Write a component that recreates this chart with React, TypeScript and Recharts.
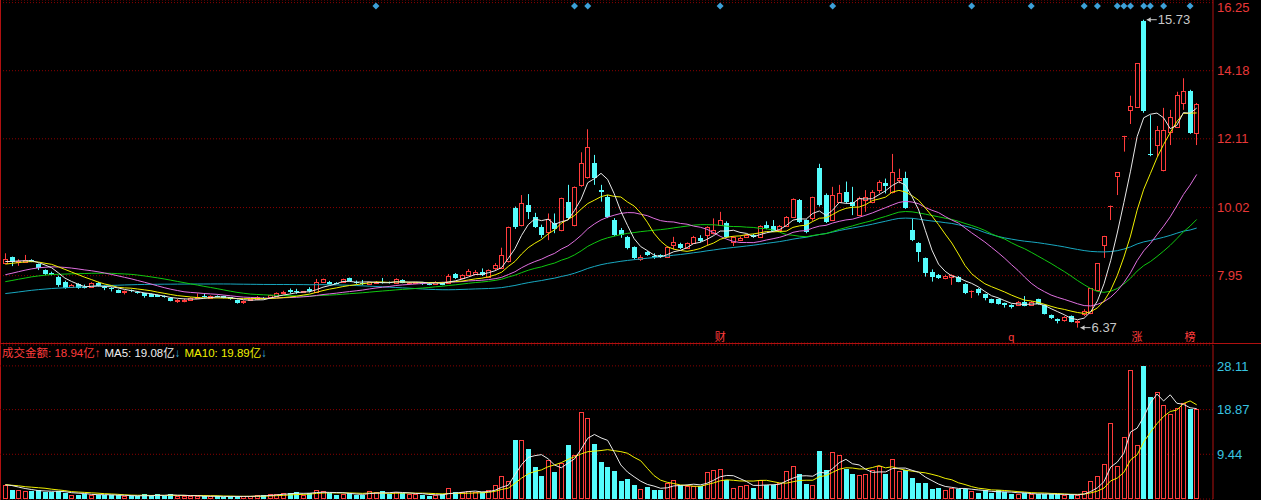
import React from 'react';
import {
  ComposedChart,
  Bar,
  Line,
  XAxis,
  YAxis,
  CartesianGrid,
  ReferenceDot,
} from 'recharts';

// daily candles (price in yuan), oldest first
const openP = [
  8.34, 8.51, 8.36, 8.36, 8.43, 8.3, 8.12, 8.02, 7.92, 7.75,
  7.62, 7.7, 7.62, 7.62, 7.74, 7.61, 7.58, 7.51, 7.46, 7.51,
  7.46, 7.41, 7.38, 7.36, 7.33, 7.28, 7.18, 7.18, 7.21, 7.26,
  7.34, 7.28, 7.33, 7.32, 7.29, 7.21, 7.14, 7.21, 7.24, 7.28,
  7.29, 7.34, 7.42, 7.5, 7.48, 7.45, 7.53, 7.45, 7.76, 7.75,
  7.73, 7.75, 7.87, 7.77, 7.74, 7.71, 7.72, 7.77, 7.75, 7.72,
  7.82, 7.72, 7.73, 7.74, 7.71, 7.71, 7.74, 7.72, 8.0, 7.87,
  7.97, 8.0, 8.07, 7.9, 8.18, 8.18, 8.4, 10.02, 9.49, 10.1,
  9.74, 9.44, 9.29, 9.54, 9.34, 10.2, 9.49, 10.71, 10.94, 11.36,
  10.56, 10.33, 9.64, 9.34, 9.13, 8.81, 8.45, 8.68, 8.56, 8.58,
  8.53, 8.88, 8.91, 8.78, 8.95, 9.1, 9.19, 9.24, 9.49, 9.54,
  8.98, 9.02, 9.13, 9.19, 9.12, 9.49, 9.46, 9.34, 9.46, 9.74,
  10.25, 9.64, 9.69, 11.21, 10.4, 9.64, 10.2, 10.5, 10.2, 9.79,
  10.25, 10.2, 10.55, 10.76, 10.5, 10.86, 10.91, 9.34, 8.95, 8.48,
  8.07, 7.97, 7.88, 7.92, 7.92, 7.7, 7.47, 7.54, 7.39, 7.23,
  7.23, 7.11, 7.06, 7.06, 7.16, 7.06, 7.23, 7.06, 6.75, 6.62,
  6.6, 6.72, 6.55, 6.79, 6.81, 7.52, 8.88, 10.08, 10.98, 12.2,
  13.0, 13.09, 15.7, 11.66, 11.92, 11.16, 12.33, 12.48, 13.21, 13.57, 12.28,
];
const highP = [
  8.63, 8.53, 8.45, 8.58, 8.45, 8.32, 8.14, 8.07, 7.95, 7.8,
  7.7, 7.72, 7.68, 7.75, 7.76, 7.66, 7.6, 7.53, 7.5, 7.53,
  7.48, 7.43, 7.4, 7.38, 7.35, 7.3, 7.24, 7.25, 7.29, 7.41,
  7.41, 7.35, 7.35, 7.34, 7.3, 7.22, 7.2, 7.25, 7.33, 7.3,
  7.37, 7.44, 7.49, 7.56, 7.55, 7.48, 7.6, 7.85, 7.86, 7.79,
  7.75, 7.86, 7.89, 7.8, 7.82, 7.76, 7.78, 7.88, 7.77, 7.87,
  7.84, 7.76, 7.76, 7.76, 7.73, 7.78, 7.76, 8.0, 8.03, 7.99,
  8.15, 8.12, 8.17, 8.14, 8.33, 8.8, 9.44, 10.05, 10.4, 10.43,
  9.86, 9.5, 9.84, 9.84, 10.32, 10.71, 10.66, 11.7, 12.4, 11.62,
  10.71, 10.4, 9.7, 9.4, 9.16, 8.84, 8.58, 8.7, 8.63, 8.6,
  8.84, 9.13, 8.95, 8.96, 9.16, 9.18, 9.45, 9.69, 9.89, 9.6,
  9.15, 9.14, 9.22, 9.22, 9.48, 9.6, 9.64, 9.49, 9.76, 10.3,
  10.28, 9.66, 10.35, 11.35, 10.45, 10.65, 10.71, 10.81, 10.65, 10.35,
  10.55, 10.55, 10.85, 10.9, 11.65, 11.2, 11.11, 9.69, 8.97, 8.5,
  8.14, 8.0, 7.98, 7.99, 7.94, 7.72, 7.5, 7.57, 7.4, 7.25,
  7.25, 7.13, 7.08, 7.18, 7.33, 7.18, 7.25, 7.08, 6.77, 6.65,
  6.72, 6.74, 6.6, 6.93, 7.57, 8.33, 9.16, 10.08, 11.09, 12.2,
  13.42, 14.41, 15.73, 12.83, 12.5, 13.05, 12.99, 13.54, 13.95, 13.6, 13.2,
];
const lowP = [
  8.33, 8.24, 8.25, 8.34, 8.36, 8.12, 7.97, 7.96, 7.61, 7.55,
  7.58, 7.55, 7.56, 7.6, 7.62, 7.51, 7.47, 7.42, 7.38, 7.45,
  7.4, 7.28, 7.3, 7.3, 7.28, 7.17, 7.12, 7.14, 7.2, 7.25,
  7.28, 7.27, 7.29, 7.26, 7.22, 7.1, 7.09, 7.19, 7.22, 7.23,
  7.27, 7.33, 7.38, 7.41, 7.4, 7.43, 7.44, 7.43, 7.74, 7.68,
  7.7, 7.74, 7.77, 7.7, 7.66, 7.7, 7.7, 7.71, 7.71, 7.71,
  7.72, 7.68, 7.69, 7.67, 7.66, 7.69, 7.66, 7.7, 7.85, 7.85,
  7.95, 7.97, 7.94, 7.88, 8.12, 8.15, 8.35, 9.37, 9.45, 9.67,
  9.4, 9.1, 9.03, 9.24, 9.3, 9.65, 9.45, 10.65, 10.9, 10.71,
  10.2, 9.7, 9.15, 9.1, 8.75, 8.45, 8.4, 8.55, 8.46, 8.49,
  8.5, 8.75, 8.76, 8.76, 8.93, 8.96, 8.88, 9.2, 9.47, 9.1,
  8.85, 9.0, 9.1, 9.1, 9.1, 9.36, 9.3, 9.32, 9.44, 9.72,
  9.55, 9.24, 9.62, 10.05, 9.55, 9.62, 10.18, 10.15, 9.79, 9.76,
  9.89, 10.15, 10.45, 10.45, 10.45, 10.76, 9.98, 9.0, 8.37, 7.92,
  7.77, 7.85, 7.84, 7.67, 7.75, 7.39, 7.27, 7.35, 7.2, 7.11,
  7.07, 6.98, 6.95, 7.04, 7.02, 7.04, 7.07, 6.77, 6.63, 6.5,
  6.55, 6.53, 6.37, 6.72, 6.78, 7.5, 8.49, 9.64, 10.4, 11.72,
  12.56, 13.05, 12.9, 11.58, 11.56, 11.12, 11.92, 12.45, 12.99, 12.26, 11.92,
];
const closeP = [
  8.45, 8.36, 8.4, 8.43, 8.38, 8.17, 7.99, 7.98, 7.67, 7.57,
  7.66, 7.58, 7.59, 7.73, 7.64, 7.56, 7.54, 7.43, 7.49, 7.47,
  7.41, 7.33, 7.31, 7.31, 7.29, 7.19, 7.21, 7.22, 7.28, 7.3,
  7.29, 7.33, 7.31, 7.27, 7.23, 7.11, 7.17, 7.24, 7.31, 7.25,
  7.36, 7.43, 7.46, 7.46, 7.45, 7.47, 7.47, 7.77, 7.84, 7.7,
  7.72, 7.84, 7.78, 7.72, 7.72, 7.75, 7.76, 7.73, 7.72, 7.85,
  7.73, 7.74, 7.75, 7.69, 7.7, 7.76, 7.68, 7.94, 7.88, 7.97,
  8.09, 8.05, 7.97, 8.12, 8.27, 8.58, 9.44, 9.44, 10.15, 9.89,
  9.44, 9.19, 9.66, 9.36, 10.3, 9.69, 10.66, 11.38, 11.85, 10.91,
  10.5, 9.74, 9.19, 9.19, 8.78, 8.48, 8.53, 8.58, 8.51, 8.51,
  8.81, 8.98, 8.78, 8.93, 9.13, 9.0, 9.42, 9.34, 9.64, 9.13,
  9.12, 9.1, 9.18, 9.12, 9.46, 9.4, 9.32, 9.46, 9.74, 10.27,
  9.59, 9.29, 10.33, 10.1, 9.59, 10.4, 10.45, 10.2, 10.08, 10.32,
  10.35, 10.5, 10.81, 10.68, 11.11, 10.91, 10.0, 9.03, 8.68, 8.02,
  7.9, 7.87, 7.94, 7.97, 7.77, 7.41, 7.49, 7.41, 7.26, 7.13,
  7.09, 7.06, 7.01, 7.16, 7.04, 7.16, 7.09, 6.79, 6.65, 6.58,
  6.7, 6.55, 6.58, 6.88, 7.57, 8.33, 9.16, 10.08, 11.09, 12.2,
  13.1, 14.41, 12.95, 11.62, 12.38, 12.38, 12.76, 13.44, 13.57, 12.28, 13.17,
];
// 成交金额, 亿
const amount = [
  3.0, 1.8, 1.8, 1.67, 1.67, 1.96, 1.39, 1.46, 1.67, 1.25,
  0.9, 0.9, 1.1, 0.76, 0.9, 0.9, 0.76, 0.76, 0.6, 0.6,
  0.6, 0.97, 0.6, 1.1, 0.6, 1.1, 0.6, 0.6, 0.6, 0.6,
  0.55, 0.55, 0.55, 0.48, 0.55, 0.6, 0.55, 0.6, 0.76, 0.76,
  1.1, 1.1, 1.25, 1.25, 1.46, 0.9, 1.25, 1.96, 1.6, 1.25,
  0.76, 1.1, 1.25, 0.9, 0.9, 1.6, 1.46, 1.6, 1.1, 1.46,
  1.25, 1.1, 0.97, 0.9, 0.6, 0.9, 0.97, 2.3, 1.46, 1.46,
  1.67, 1.46, 1.46, 1.8, 2.87, 4.77, 3.7, 12.5, 12.4, 10.5,
  6.67, 4.77, 8.15, 5.7, 7.66, 11.5, 9.35, 18.4, 17.2, 11.7,
  7.9, 6.7, 5.9, 3.7, 4.3, 2.87, 2.03, 2.5, 1.96, 1.96,
  3.36, 4.07, 2.87, 2.66, 2.66, 2.66, 5.7, 6.04, 6.4, 4.07,
  2.39, 2.66, 2.87, 2.39, 4.07, 2.87, 2.87, 3.36, 5.9, 7.0,
  5.2, 3.08, 2.87, 10.05, 6.19, 9.9, 9.35, 6.4, 5.34, 4.98,
  5.34, 6.04, 6.88, 5.34, 8.5, 5.9, 6.04, 4.5, 3.36, 3.36,
  2.17, 2.39, 2.0, 2.39, 2.17, 2.17, 1.6, 1.25, 1.8, 1.25,
  1.8, 1.46, 0.97, 1.1, 1.2, 0.97, 1.1, 0.97, 0.97, 0.97,
  0.9, 0.9, 0.76, 1.67, 3.72, 4.77, 7.46, 16.1, 6.88, 13.1,
  27.2, 11.5, 28.11, 21.5, 22.5, 19.9, 18.0, 19.2, 20.36, 18.9, 18.94,
];
// sessions before the visible window, only used to seed the moving averages
const histClose = [
  6.92, 6.97, 6.88, 6.84, 6.9, 6.99, 6.94, 7.01, 6.95, 6.91,
  6.98, 7.04, 6.99, 6.93, 7.0, 7.06, 7.01, 7.08, 7.02, 7.1,
  7.05, 7.14, 7.09, 7.16, 7.1, 7.19, 7.13, 7.2, 7.17, 7.23,
  7.25, 7.3, 7.26, 7.33, 7.28, 7.36, 7.31, 7.38, 7.43, 7.4,
  7.41, 7.47, 7.43, 7.52, 7.58, 7.55, 7.66, 7.7, 7.78, 7.82,
  8.06, 8.11, 8.19, 8.21, 8.29, 8.3, 8.36, 8.31, 8.41, 8.37,
];
const histAmount = [2.4, 3.3, 2.9, 3.6, 2.7, 3.1, 2.5, 3.4, 3.2, 2.8];

const priceTicks = [7.95, 10.02, 12.11, 14.18, 16.25];
const volTicks = [9.44, 18.87, 28.11];
const flagIdx = [56, 86, 88, 108, 125, 146, 155, 163, 165, 168, 169, 170, 172, 173, 175, 179];
const tagIdx = [108, 152, 171, 179];
const tagText = ['财', 'q', '涨', '榜'];

const RED = '#ff3c3c';
const CYAN = '#54fcfc';
const AXIS_RED = '#b01010';
const GRID_RED = '#8a0000';
const FONT = "'Liberation Sans', Arial, 'Noto Sans CJK SC', sans-serif";

const allClose = [...histClose, ...closeP];
const allAmount = [...histAmount, ...amount];
const avg = (src: number[], pre: number, n: number, i: number) => {
  let s = 0;
  for (let k = 0; k < n; k++) s += src[pre + i - k];
  return s / n;
};

const rows = closeP.map((c, i) => {
  const prev = i > 0 ? closeP[i - 1] : histClose[histClose.length - 1];
  return {
    i,
    open: openP[i],
    high: highP[i],
    low: lowP[i],
    close: c,
    up: c > openP[i] || (c === openP[i] && c >= prev),
    vol: amount[i],
    ma5: avg(allClose, 60, 5, i),
    ma10: avg(allClose, 60, 10, i),
    ma20: avg(allClose, 60, 20, i),
    ma30: avg(allClose, 60, 30, i),
    ma60: avg(allClose, 60, 60, i),
    vma5: avg(allAmount, 10, 5, i),
    vma10: avg(allAmount, 10, 10, i),
  };
});

const CandleShape = (props: any) => {
  const { x, y, width, height, payload } = props;
  if (x == null || !payload) return null;
  const { open, close, high, low, up } = payload;
  const top = Math.min(y, y + height);
  const h = Math.abs(height);
  const k = high > low ? h / (high - low) : 0;
  const py = (p: number) => top + (high - p) * k;
  const c = Math.floor(x + width / 2);
  const bTop = Math.round(py(Math.max(open, close)));
  const bBot = Math.round(py(Math.min(open, close)));
  const yh = py(high);
  const yl = py(low);
  const color = up ? RED : CYAN;
  if (bBot - bTop < 1) {
    return (
      <g>
        <line x1={c + 0.5} x2={c + 0.5} y1={yh} y2={yl} stroke={color} />
        <line x1={c - 2} x2={c + 3} y1={bTop + 0.5} y2={bTop + 0.5} stroke={color} />
      </g>
    );
  }
  if (up) {
    return (
      <g>
        <line x1={c + 0.5} x2={c + 0.5} y1={yh} y2={bTop} stroke={color} />
        <line x1={c + 0.5} x2={c + 0.5} y1={bBot} y2={yl} stroke={color} />
        <rect x={c - 1.5} y={bTop + 0.5} width={4} height={bBot - bTop} fill="#000" stroke={color} />
      </g>
    );
  }
  return (
    <g>
      <line x1={c + 0.5} x2={c + 0.5} y1={yh} y2={yl} stroke={color} />
      <rect x={c - 2} y={bTop} width={5} height={bBot - bTop} fill={color} />
    </g>
  );
};

const VolShape = (props: any) => {
  const { x, y, width, height, payload } = props;
  if (x == null || !payload) return null;
  const c = Math.floor(x + width / 2);
  const t = Math.round(y);
  const b = Math.round(y + height);
  if (payload.up) {
    return <rect x={c - 1.5} y={t + 0.5} width={4} height={Math.max(0, b - t - 1)} fill="#000" stroke={RED} />;
  }
  return <rect x={c - 2} y={t} width={5} height={Math.max(1, b - t)} fill={CYAN} />;
};

const PriceTick = (p: any) => (
  <text x={p.x} y={Math.max(p.y, 7)} dy="0.36em" fill="#e83838" fontSize={13} fontFamily={FONT}>
    {Number(p.payload.value).toFixed(2)}
  </text>
);
const VolTick = (p: any) => (
  <text x={p.x} y={p.y} dy="0.36em" fill="#38c4e0" fontSize={13} fontFamily={FONT}>
    {Number(p.payload.value).toFixed(2)}
  </text>
);

const Diamond = (p: any) => (
  <path
    d={`M${p.cx},${p.cy - 3.5} L${p.cx + 3.5},${p.cy} L${p.cx},${p.cy + 3.5} L${p.cx - 3.5},${p.cy} Z`}
    fill="#3ca0d8"
  />
);

const extremeLabel = (text: string) => (p: any) => (
  <g>
    <line x1={p.cx + 3} x2={p.cx + 13} y1={p.cy} y2={p.cy} stroke="#c8c8c8" />
    <path d={`M${p.cx + 3},${p.cy} l4,-2.5 l0,5 Z`} fill="#c8c8c8" />
    <text x={p.cx + 14} y={p.cy} dy="0.36em" fill="#c8c8c8" fontSize={13} fontFamily={FONT}>
      {text}
    </text>
  </g>
);

const tagShape = (text: string) => (p: any) => (
  <text x={p.cx} y={p.cy} dy="0.36em" textAnchor="middle" fill={RED} fontSize={11} fontFamily={FONT}>
    {text}
  </text>
);

const maxIdx = highP.indexOf(Math.max(...highP));
const minIdx = lowP.indexOf(Math.min(...lowP));
const last = rows[rows.length - 1];
const prevRow = rows[rows.length - 2];
const arrow = (a: number, b: number) => (a >= b ? '↑' : '↓');

const xPadding = { left: 2, right: 13 };

export default function App() {
  return (
    <div
      style={{
        position: 'fixed',
        left: 0,
        top: 0,
        width: 1261,
        height: 500,
        background: '#000',
        overflow: 'hidden',
        fontFamily: FONT,
      }}
    >
      <div style={{ position: 'absolute', left: 0, top: 0 }}>
        <ComposedChart width={1261} height={344} data={rows} margin={{ top: 0, right: 0, bottom: 1, left: 0 }}>
          <CartesianGrid vertical={false} stroke={GRID_RED} strokeDasharray="1 2" />
          <XAxis dataKey="i" type="category" hide padding={xPadding} />
          <YAxis
            orientation="right"
            width={48}
            domain={[5.903, 16.329]}
            allowDataOverflow
            ticks={priceTicks}
            interval={0}
            tickSize={0}
            tickMargin={4}
            tickLine={false}
            axisLine={{ stroke: AXIS_RED }}
            tick={<PriceTick />}
          />
          <Bar
            dataKey={(d: any) => [d.low, d.high]}
            barSize={5}
            isAnimationActive={false}
            shape={(p: any) => <CandleShape {...p} />}
          />
          <Line dataKey="ma60" stroke="#18a8c0" dot={false} strokeWidth={1} isAnimationActive={false} />
          <Line dataKey="ma30" stroke="#10c810" dot={false} strokeWidth={1} isAnimationActive={false} />
          <Line dataKey="ma20" stroke="#e070e0" dot={false} strokeWidth={1} isAnimationActive={false} />
          <Line dataKey="ma10" stroke="#f0f000" dot={false} strokeWidth={1} isAnimationActive={false} />
          <Line dataKey="ma5" stroke="#e8e8e8" dot={false} strokeWidth={1} isAnimationActive={false} />
          {flagIdx.map((f) => (
            <ReferenceDot key={`f${f}`} x={f} y={16.146} r={3} ifOverflow="visible" shape={Diamond} />
          ))}
          {tagIdx.map((t, k) => (
            <ReferenceDot key={`t${t}`} x={t} y={6.07} r={3} ifOverflow="visible" shape={tagShape(tagText[k])} />
          ))}
          <ReferenceDot x={maxIdx} y={highP[maxIdx]} r={3} ifOverflow="visible" shape={extremeLabel(highP[maxIdx].toFixed(2))} />
          <ReferenceDot x={minIdx} y={lowP[minIdx]} r={3} ifOverflow="visible" shape={extremeLabel(lowP[minIdx].toFixed(2))} />
        </ComposedChart>
      </div>
      <div style={{ position: 'absolute', left: 0, top: 343, width: 1261, height: 1, background: AXIS_RED }} />
      <div style={{ position: 'absolute', left: 0, top: 0, width: 1, height: 500, background: AXIS_RED }} />
      <div style={{ position: 'absolute', left: 0, top: 344 }}>
        <ComposedChart width={1261} height={156} data={rows} margin={{ top: 1, right: 0, bottom: 1, left: 0 }}>
          <CartesianGrid vertical={false} stroke={GRID_RED} strokeDasharray="1 2" />
          <XAxis dataKey="i" type="category" hide padding={xPadding} />
          <YAxis
            orientation="right"
            width={48}
            domain={[0, 32.52]}
            allowDataOverflow
            ticks={volTicks}
            interval={0}
            tickSize={0}
            tickMargin={4}
            tickLine={false}
            axisLine={{ stroke: AXIS_RED }}
            tick={<VolTick />}
          />
          <Bar dataKey="vol" barSize={5} isAnimationActive={false} shape={(p: any) => <VolShape {...p} />} />
          <Line dataKey="vma10" stroke="#f0f000" dot={false} strokeWidth={1} isAnimationActive={false} />
          <Line dataKey="vma5" stroke="#e8e8e8" dot={false} strokeWidth={1} isAnimationActive={false} />
        </ComposedChart>
      </div>
      <div
        style={{
          position: 'absolute',
          left: 2,
          top: 346,
          fontSize: 11.5,
          lineHeight: '14px',
          whiteSpace: 'nowrap',
        }}
      >
        <span style={{ color: RED }}>
          成交金额: {last.vol.toFixed(2)}亿{arrow(last.vol, prevRow.vol)}
        </span>
        <span style={{ color: '#f0f0f0', marginLeft: 4 }}>MA5: {last.vma5.toFixed(2)}亿</span>
        <span style={{ color: '#38b8e0' }}>{arrow(last.vma5, prevRow.vma5)}</span>
        <span style={{ color: '#f0f000', marginLeft: 4 }}>MA10: {last.vma10.toFixed(2)}亿</span>
        <span style={{ color: '#38b8e0' }}>{arrow(last.vma10, prevRow.vma10)}</span>
      </div>
    </div>
  );
}
